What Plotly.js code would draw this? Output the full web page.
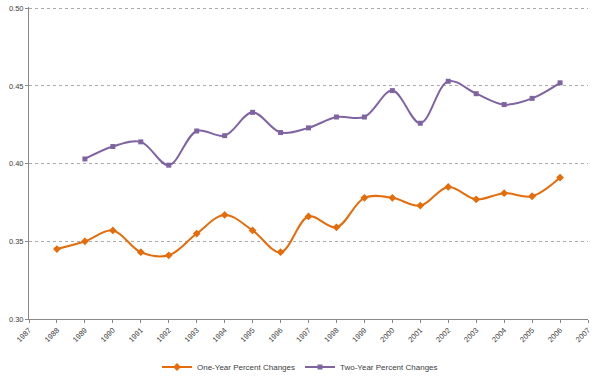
<!DOCTYPE html>
<html>
<head>
<meta charset="utf-8">
<script src="https://cdn.plot.ly/plotly-3.0.1.min.js"></script>
<style>html,body{margin:0;padding:0;background:#fff;}#chart{width:600px;height:376px;}</style>
</head>
<body>
<div id="chart"></div>
<script>
const yearsOne = [1988,1989,1990,1991,1992,1993,1994,1995,1996,1997,1998,1999,2000,2001,2002,2003,2004,2005,2006];
const oneYear = [0.345,0.350,0.357,0.343,0.341,0.355,0.367,0.357,0.343,0.366,0.359,0.378,0.378,0.373,0.385,0.377,0.381,0.379,0.391];
const yearsTwo = [1989,1990,1991,1992,1993,1994,1995,1996,1997,1998,1999,2000,2001,2002,2003,2004,2005,2006];
const twoYear = [0.403,0.411,0.414,0.399,0.421,0.418,0.433,0.420,0.423,0.430,0.430,0.447,0.426,0.453,0.445,0.438,0.442,0.452];
const xTicks = [1987,1988,1989,1990,1991,1992,1993,1994,1995,1996,1997,1998,1999,2000,2001,2002,2003,2004,2005,2006,2007];
const yTicks = [0.30,0.35,0.40,0.45,0.50];

const traces = [
  {x: yearsOne, y: oneYear, name: 'One-Year Percent Changes', type: 'scatter', mode: 'lines+markers',
   line: {color: '#E46C0A', width: 2, shape: 'spline', smoothing: 1},
   marker: {symbol: 'diamond', size: 6, color: '#E46C0A'}},
  {x: yearsTwo, y: twoYear, name: 'Two-Year Percent Changes', type: 'scatter', mode: 'lines+markers',
   line: {color: '#8064A2', width: 2, shape: 'spline', smoothing: 1},
   marker: {symbol: 'square', size: 5, color: '#8064A2'}}
];

const layout = {
  width: 600, height: 376,
  margin: {l: 29, r: 12, t: 7, b: 57, autoexpand: false},
  paper_bgcolor: '#fff', plot_bgcolor: '#fff',
  font: {family: 'Liberation Sans, Arial, sans-serif', size: 7, color: '#404040'},
  showlegend: true,
  legend: {orientation: 'h', x: 0.5, xanchor: 'center', xref: 'container', y: 0.024, yref: 'container', yanchor: 'middle',
           font: {size: 8, color: '#404040'}, tracegroupgap: 0},
  xaxis: {range: [1987, 2007], tickmode: 'array', tickvals: xTicks, ticktext: xTicks.map(String),
          tickangle: -45, showgrid: false, zeroline: false, showline: true, linecolor: '#888', linewidth: 1,
          ticks: 'outside', ticklen: 3, tickcolor: '#888', tickfont: {size: 7.5, color: '#404040'}, automargin: false},
  yaxis: {range: [0.30, 0.5008], tickmode: 'array', tickvals: yTicks, ticktext: yTicks.map(v => v.toFixed(2)),
          showgrid: true, gridcolor: '#aaa', griddash: 'dot', gridwidth: 1, zeroline: false,
          showline: true, linecolor: '#888', linewidth: 1, ticks: 'outside', ticklen: 3, tickcolor: '#888',
          tickfont: {size: 7.5, color: '#404040'}, automargin: false}
};

Plotly.newPlot('chart', traces, layout, {displayModeBar: false, staticPlot: true});
</script>
</body>
</html>
